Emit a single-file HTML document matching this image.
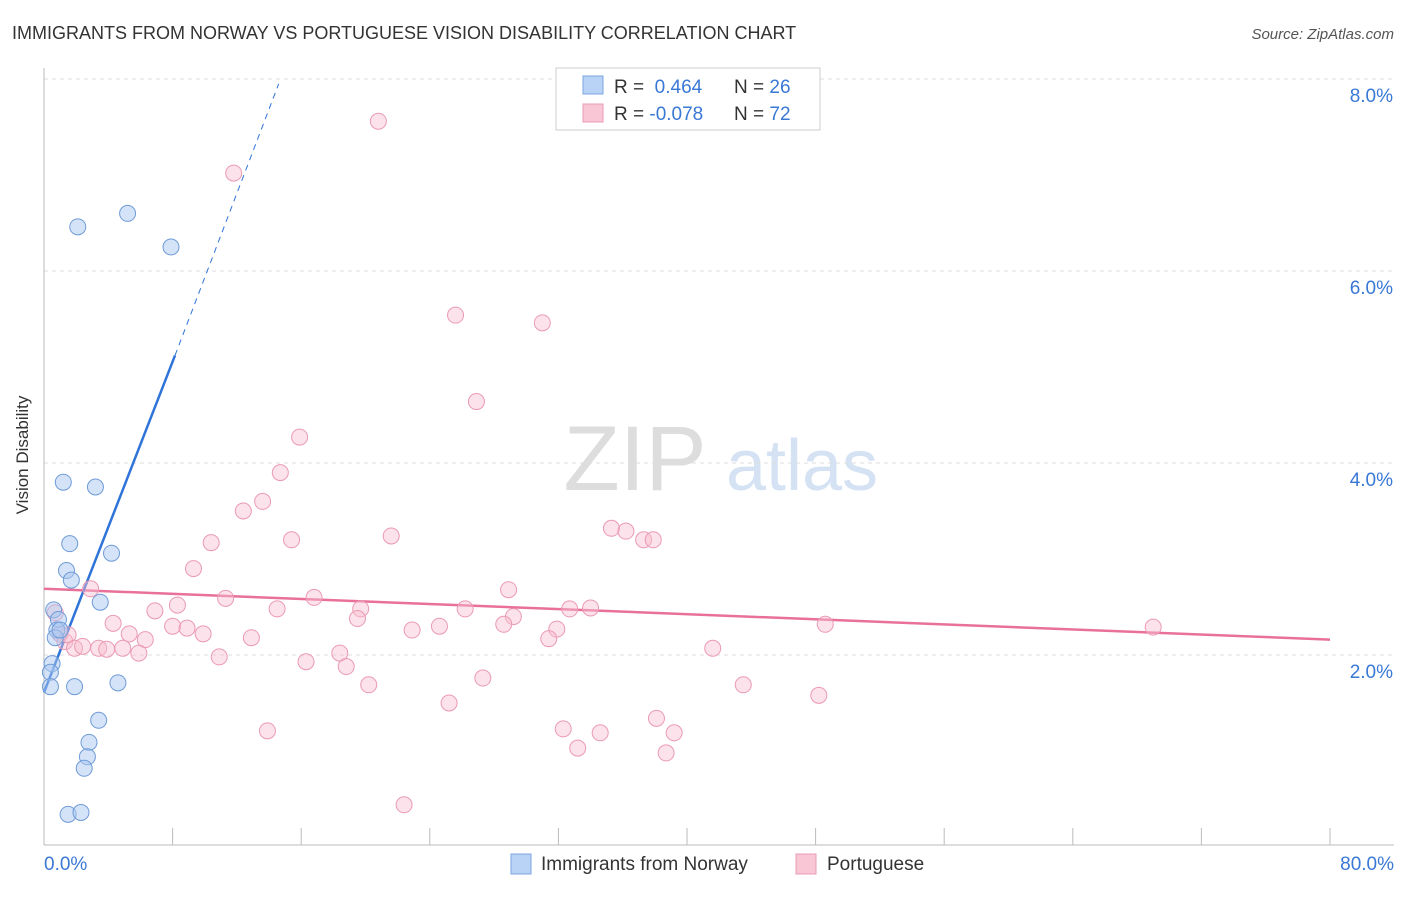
<!DOCTYPE html>
<html><head><meta charset="utf-8"><style>
body{margin:0;background:#fff;font-family:"Liberation Sans",sans-serif;}
svg text{font-family:"Liberation Sans",sans-serif;}
</style></head><body>
<svg id="chart" width="1406" height="892" xmlns="http://www.w3.org/2000/svg">
<text x="12" y="39" font-size="18" fill="#333">IMMIGRANTS FROM NORWAY VS PORTUGUESE VISION DISABILITY CORRELATION CHART</text>
<text x="1394" y="39" font-size="15" fill="#555" font-style="italic" text-anchor="end">Source: ZipAtlas.com</text>
<text x="28" y="455" font-size="17" fill="#333" transform="rotate(-90 28 455)" text-anchor="middle">Vision Disability</text>
<g><text x="635" y="490" font-size="92" fill="#ddd" font-family="Liberation Serif" text-anchor="middle">ZIP</text><text x="802" y="490" font-size="72" fill="#d4e2f4" text-anchor="middle">atlas</text></g>
<g id="grid"></g><g id="axes"></g><g id="lines"></g><g id="pts"></g>
<g>
<rect x="556" y="68" width="264" height="62" fill="#fff" stroke="#ccc"/>
<rect x="583" y="76" width="20" height="18" fill="#b8d3f5" stroke="#7aa6e0"/>
<rect x="583" y="104" width="20" height="18" fill="#f9c6d5" stroke="#eb9ab3"/>
<text x="614" y="93" font-size="19" fill="#333">R = <tspan fill="#3a78d6">&#160;0.464</tspan></text>
<text x="734" y="93" font-size="19" fill="#333">N = <tspan fill="#3a78d6">26</tspan></text>
<text x="614" y="120" font-size="19" fill="#333">R = <tspan fill="#3a78d6">-0.078</tspan></text>
<text x="734" y="120" font-size="19" fill="#333">N = <tspan fill="#3a78d6">72</tspan></text>
</g>
<g>
<rect x="511" y="854" width="20" height="20" fill="#b8d3f5" stroke="#7aa6e0"/>
<text x="541" y="870" font-size="19" fill="#333">Immigrants from Norway</text>
<rect x="796" y="854" width="20" height="20" fill="#f9c6d5" stroke="#eb9ab3"/>
<text x="827" y="870" font-size="19" fill="#333">Portuguese</text>
</g>
</svg>
<script>
const yTicks=[2,4,6,8];
const yTickLabels=["2.0%","4.0%","6.0%","8.0%"];
const xTicks=[0,8,16,24,32,40,48,56,64,72,80];
const norwayX=[2.1,5.2,7.9,1.2,3.2,1.6,4.2,1.4,1.7,3.5,0.6,0.9,0.8,0.5,0.4,0.4,1.9,4.6,3.4,2.8,2.7,2.5,1.5,2.3,0.7,1.0];
const norwayY=[6.46,6.6,6.25,3.8,3.75,3.16,3.06,2.88,2.78,2.55,2.47,2.37,2.26,1.91,1.82,1.67,1.67,1.71,1.32,1.09,0.94,0.82,0.34,0.36,2.18,2.26];
const portX=[20.8,11.8,25.6,31,26.9,15.9,14.7,13.6,12.4,21.6,15.4,10.4,35.3,36.2,37.3,37.9,9.3,2.9,28.9,16.8,11.3,8.3,6.9,19.7,26.2,32.7,34,14.5,19.5,29.2,4.3,28.6,48.6,69,8.0,8.9,24.6,31.9,5.3,9.9,22.9,6.3,12.9,1.0,1.3,1.5,1.9,2.4,3.4,3.9,4.9,5.9,31.4,18.4,41.6,10.9,16.3,18.8,27.3,20.2,43.5,48.2,25.2,38.1,32.3,34.6,13.9,39.2,33.2,38.7,22.4,0.7];
const portY=[7.56,7.02,5.54,5.46,4.64,4.27,3.9,3.6,3.5,3.24,3.2,3.17,3.32,3.29,3.2,3.2,2.9,2.69,2.68,2.6,2.59,2.52,2.46,2.48,2.48,2.48,2.49,2.48,2.38,2.4,2.33,2.32,2.32,2.29,2.3,2.28,2.3,2.27,2.22,2.22,2.26,2.16,2.18,2.22,2.14,2.21,2.07,2.09,2.07,2.06,2.07,2.02,2.17,2.02,2.07,1.98,1.93,1.88,1.76,1.69,1.69,1.58,1.5,1.34,1.23,1.19,1.21,1.19,1.03,0.98,0.44,2.44];
const NS="http://www.w3.org/2000/svg";
const xs=v=>44+v*16.075, ys=v=>847-v*96;
function mk(t,a,p){const e=document.createElementNS(NS,t);for(const k in a)e.setAttribute(k,a[k]);document.getElementById(p).appendChild(e);return e;}
yTicks.forEach((v,i)=>{
 const g=mk('line',{x1:44,x2:1394,y1:ys(v),y2:ys(v),stroke:'#ddd','stroke-dasharray':'4,4'},'grid');
 
 
 const t=mk('text',{x:1393,y:ys(v)+23,'font-size':19,fill:'#3a78d6','text-anchor':'end'},'axes');t.textContent=yTickLabels[i];
 
 
});
const xl=mk('line',{x1:44,x2:1394,y1:845,y2:845,stroke:'#bbb'},'axes');


const yl=mk('line',{x1:44,x2:44,y1:68,y2:845,stroke:'#bbb'},'axes');


xTicks.forEach(v=>{if(v===0)return;const l=mk('line',{x1:xs(v),x2:xs(v),y1:828,y2:845,stroke:'#bbb'},'axes');
 
 });
const t0=mk('text',{x:44,y:870,'font-size':19,fill:'#3a78d6'},'axes');t0.textContent='0.0%';


const t1=mk('text',{x:1394,y:870,'font-size':19,fill:'#3a78d6','text-anchor':'end'},'axes');t1.textContent='80.0%';


// trend lines
const pl=mk('line',{x1:xs(0),y1:ys(2.69),x2:xs(80),y2:ys(2.16),stroke:'#e8709a','stroke-width':2.5},'lines');


const bl=mk('line',{x1:xs(0),y1:ys(1.61),x2:xs(8.15),y2:ys(5.12),stroke:'#2f74d8','stroke-width':2.5},'lines');


const bd=mk('line',{x1:xs(8.15),y1:ys(5.12),x2:xs(14.6),y2:ys(7.95),stroke:'#2f74d8','stroke-width':1,'stroke-dasharray':'6,5'},'lines');


portX.forEach((x,i)=>{const c=mk('circle',{cx:xs(x),cy:ys(portY[i]),r:8,fill:'rgba(249,190,208,0.45)',stroke:'#eb9ab3','stroke-width':1},'pts');
 
 });
norwayX.forEach((x,i)=>{const c=mk('circle',{cx:xs(x),cy:ys(norwayY[i]),r:8,fill:'rgba(170,200,240,0.5)',stroke:'#6f9bd8','stroke-width':1},'pts');
 
 });
</script>
</body></html>
